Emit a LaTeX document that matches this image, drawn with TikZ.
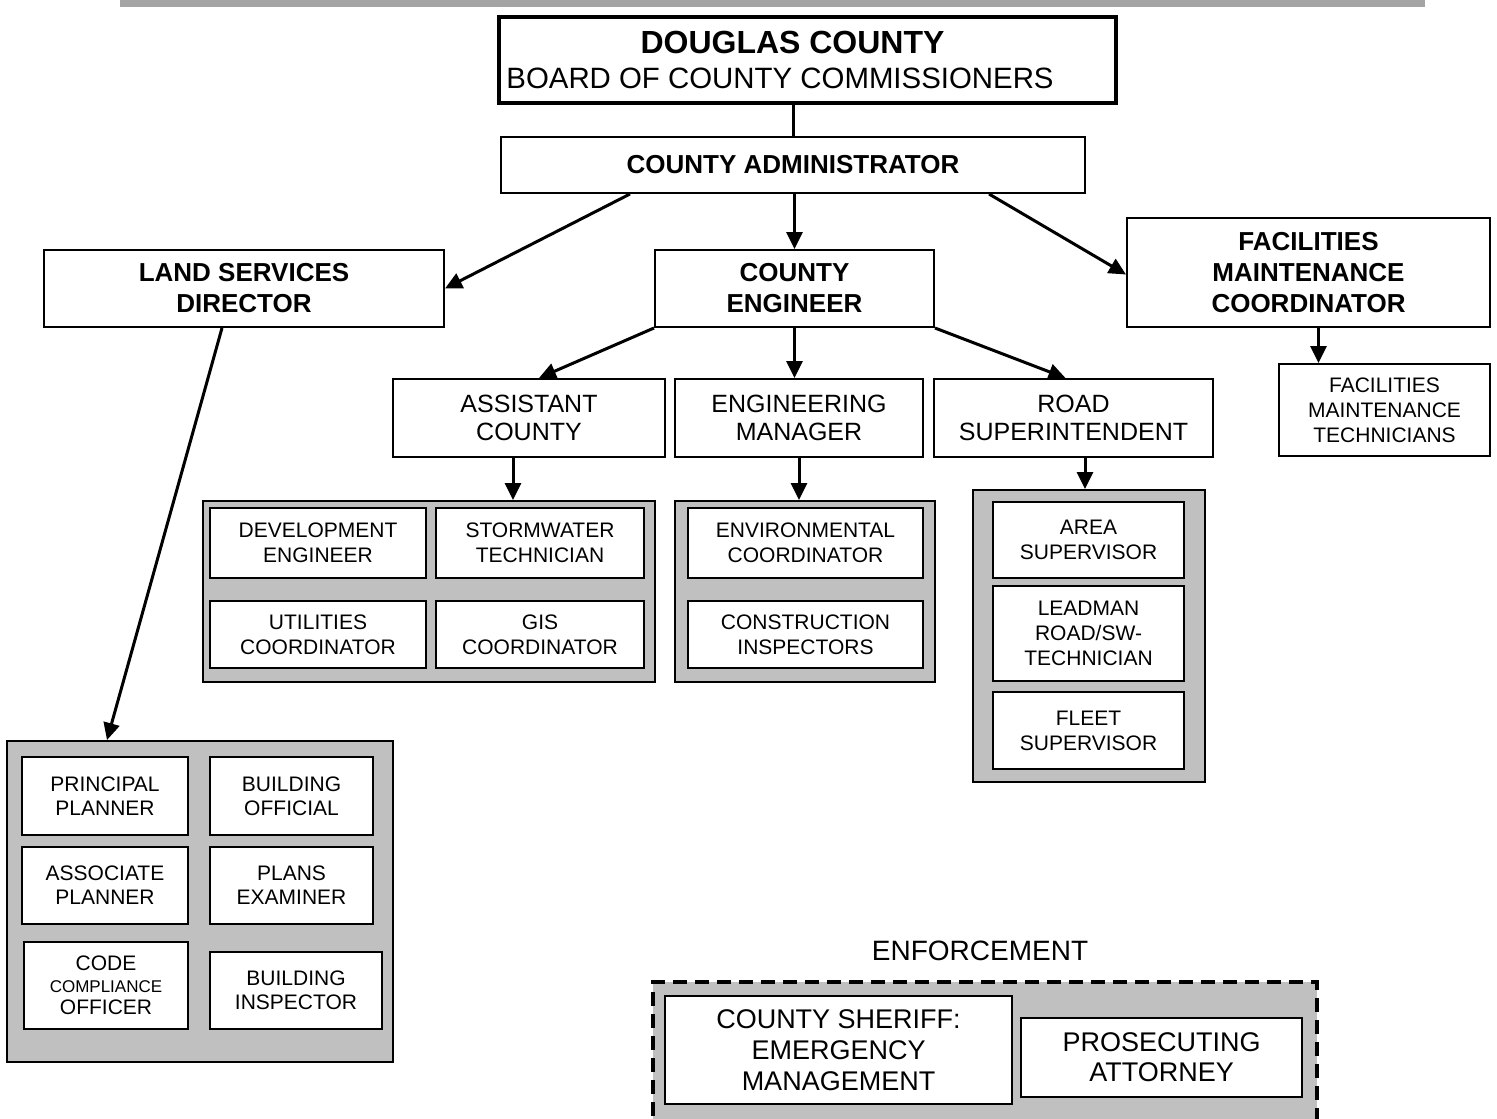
\documentclass[tikz,border=0pt]{standalone}
\usepackage{fontspec}
\setmainfont{Liberation Sans}
\usetikzlibrary{arrows.meta}
\definecolor{grpgray}{HTML}{C0C0C0}
\definecolor{bargray}{HTML}{A4A4A4}
\tikzset{
  box/.style={draw,line width=1pt,fill=white,align=center,inner sep=0pt},
  headbox/.style={box,font=\fontsize{13}{15.5}\selectfont\bfseries},
  midbox/.style={box,font=\fontsize{12.5}{14}\selectfont},
  smallbox/.style={box,font=\fontsize{10.5}{12.5}\selectfont},
  groupbox/.style={draw,line width=1pt,fill=grpgray,inner sep=0pt},
  link/.style={line width=1.5pt,-{Triangle[length=8.5pt,width=8pt]}}
}
\begin{document}
\begin{tikzpicture}[x=0.5pt,y=-0.5pt]
  \useasboundingbox (0,0) rectangle (1497,1118);
  \fill[bargray] (120,0) rectangle (1425,7);
  % board and administrator
  \node[box,line width=1.75pt,minimum width=308.5pt,minimum height=43pt,inner xsep=0pt,font=\fontsize{14.7}{17.5}\selectfont] (board) at (807.5,60)
    {{\fontsize{16}{17.5}\selectfont\bfseries DOUGLAS COUNTY}\hspace*{15pt}\\BOARD OF COUNTY COMMISSIONERS\hspace*{27.5pt}};
  \node[headbox,minimum width=292pt,minimum height=28pt] (admin) at (793,165) {COUNTY ADMINISTRATOR};
  \node[headbox,minimum width=200pt,minimum height=38.5pt] (land) at (244,288.5) {LAND SERVICES\\DIRECTOR};
  \node[headbox,minimum width=139.5pt,minimum height=38.5pt] (engineer) at (794.5,288.5) {COUNTY\\ENGINEER};
  \node[headbox,minimum width=181.5pt,minimum height=54.5pt] (facil) at (1308.5,272.5) {FACILITIES\\MAINTENANCE\\COORDINATOR};
  \node[smallbox,minimum width=105.5pt,minimum height=46pt] (factech) at (1384.5,410) {FACILITIES\\MAINTENANCE\\TECHNICIANS};
  % engineer level
  \node[midbox,minimum width=136pt,minimum height=39pt] (assist) at (529,418) {ASSISTANT\\COUNTY};
  \node[midbox,minimum width=124pt,minimum height=39pt] (engmgr) at (799,418) {ENGINEERING\\MANAGER};
  \node[midbox,minimum width=139.5pt,minimum height=39pt] (road) at (1073.5,418) {ROAD\\SUPERINTENDENT};
  % grey groups
  \node[groupbox,minimum width=226pt,minimum height=90.5pt] (grpassist) at (429,591.5) {};
  \node[smallbox,minimum width=108pt,minimum height=35pt] (develop) at (318,543) {DEVELOPMENT\\ENGINEER};
  \node[smallbox,minimum width=104pt,minimum height=35pt] (storm) at (540,543) {STORMWATER\\TECHNICIAN};
  \node[smallbox,minimum width=108pt,minimum height=33.5pt] (util) at (318,634.5) {UTILITIES\\COORDINATOR};
  \node[smallbox,minimum width=104pt,minimum height=33.5pt] (gis) at (540,634.5) {GIS\\COORDINATOR};
  \node[groupbox,minimum width=130pt,minimum height=90.5pt] (grpmgr) at (805,591.5) {};
  \node[smallbox,minimum width=117.5pt,minimum height=35pt] (environ) at (805.5,543) {ENVIRONMENTAL\\COORDINATOR};
  \node[smallbox,minimum width=117.5pt,minimum height=33.5pt] (constr) at (805.5,634.5) {CONSTRUCTION\\INSPECTORS};
  \node[groupbox,minimum width=116pt,minimum height=146pt] (grproad) at (1089,636) {};
  \node[smallbox,minimum width=95.5pt,minimum height=38pt] (area) at (1088.5,540) {AREA\\SUPERVISOR};
  \node[smallbox,minimum width=95.5pt,minimum height=47.5pt] (leadman) at (1088.5,633.5) {LEADMAN\\ROAD/SW-\\TECHNICIAN};
  \node[smallbox,minimum width=95.5pt,minimum height=38.5pt] (fleet) at (1088.5,730.5) {FLEET\\SUPERVISOR};
  \node[groupbox,minimum width=193pt,minimum height=160.5pt] (grpland) at (200,901.5) {};
  \node[smallbox,font=\fontsize{10.5}{12}\selectfont,minimum width=83pt,minimum height=39pt] (principal) at (105,796) {PRINCIPAL\\PLANNER};
  \node[smallbox,font=\fontsize{10.5}{12}\selectfont,minimum width=81.5pt,minimum height=39pt] (bofficial) at (291.5,796) {BUILDING\\OFFICIAL};
  \node[smallbox,font=\fontsize{10.5}{12}\selectfont,minimum width=83pt,minimum height=38.5pt] (associate) at (105,885.5) {ASSOCIATE\\PLANNER};
  \node[smallbox,font=\fontsize{10.5}{12}\selectfont,minimum width=81.5pt,minimum height=38.5pt] (plans) at (291.5,885.5) {PLANS\\EXAMINER};
  \node[smallbox,font=\fontsize{10.5}{11}\selectfont,minimum width=82pt,minimum height=43.5pt] (code) at (106,985.5)
    {CODE\\{\fontsize{8.5}{11}\selectfont COMPLIANCE}\\OFFICER};
  \node[smallbox,font=\fontsize{10.5}{12}\selectfont,minimum width=86pt,minimum height=38.5pt] (binspect) at (296,990.5) {BUILDING\\INSPECTOR};
  % enforcement
  \node[font=\fontsize{14}{16}\selectfont] (enflabel) at (980,951) {ENFORCEMENT};
  \node[groupbox,line width=1.75pt,dash pattern=on 7pt off 4pt,minimum width=332pt,minimum height=79pt] (grpenf) at (985,1061) {};
  \node[box,font=\fontsize{13.5}{15.5}\selectfont,minimum width=173.5pt,minimum height=54pt] (sheriff) at (838.5,1050) {COUNTY SHERIFF:\\EMERGENCY\\MANAGEMENT};
  \node[box,font=\fontsize{13.5}{15}\selectfont,minimum width=140.5pt,minimum height=39.5pt] (prosecute) at (1161.5,1057.5) {PROSECUTING\\ATTORNEY};
  % connectors
  \draw[line width=1.5pt] (admin.north) -- (admin.north |- board.south);
  \draw[link] ([xshift=65pt]admin.south west) -- (land.east);
  \draw[link] (engineer.north |- admin.south) -- (engineer.north);
  \draw[link] ([xshift=-48.5pt]admin.south east) -- ([yshift=-1pt]facil.west);
  \draw[link] ([xshift=5pt]facil.south) -- ([xshift=5pt]facil.south |- factech.north);
  \draw[link] (engineer.south west) -- ([xshift=5pt]assist.north);
  \draw[link] (engineer.south) -- (engineer.south |- engmgr.north);
  \draw[link] (engineer.south east) -- ([xshift=-4pt]road.north);
  \draw[link] ([xshift=-8pt]assist.south) -- ([xshift=-8pt]assist.south |- grpassist.north);
  \draw[link] (engmgr.south) -- (engmgr.south |- grpmgr.north);
  \draw[link] ([xshift=5.75pt]road.south) -- ([xshift=5.75pt]road.south |- grproad.north);
  \draw[link] ([xshift=-11pt]land.south) -- ([xshift=-46.5pt]grpland.north);
\end{tikzpicture}
\end{document}
